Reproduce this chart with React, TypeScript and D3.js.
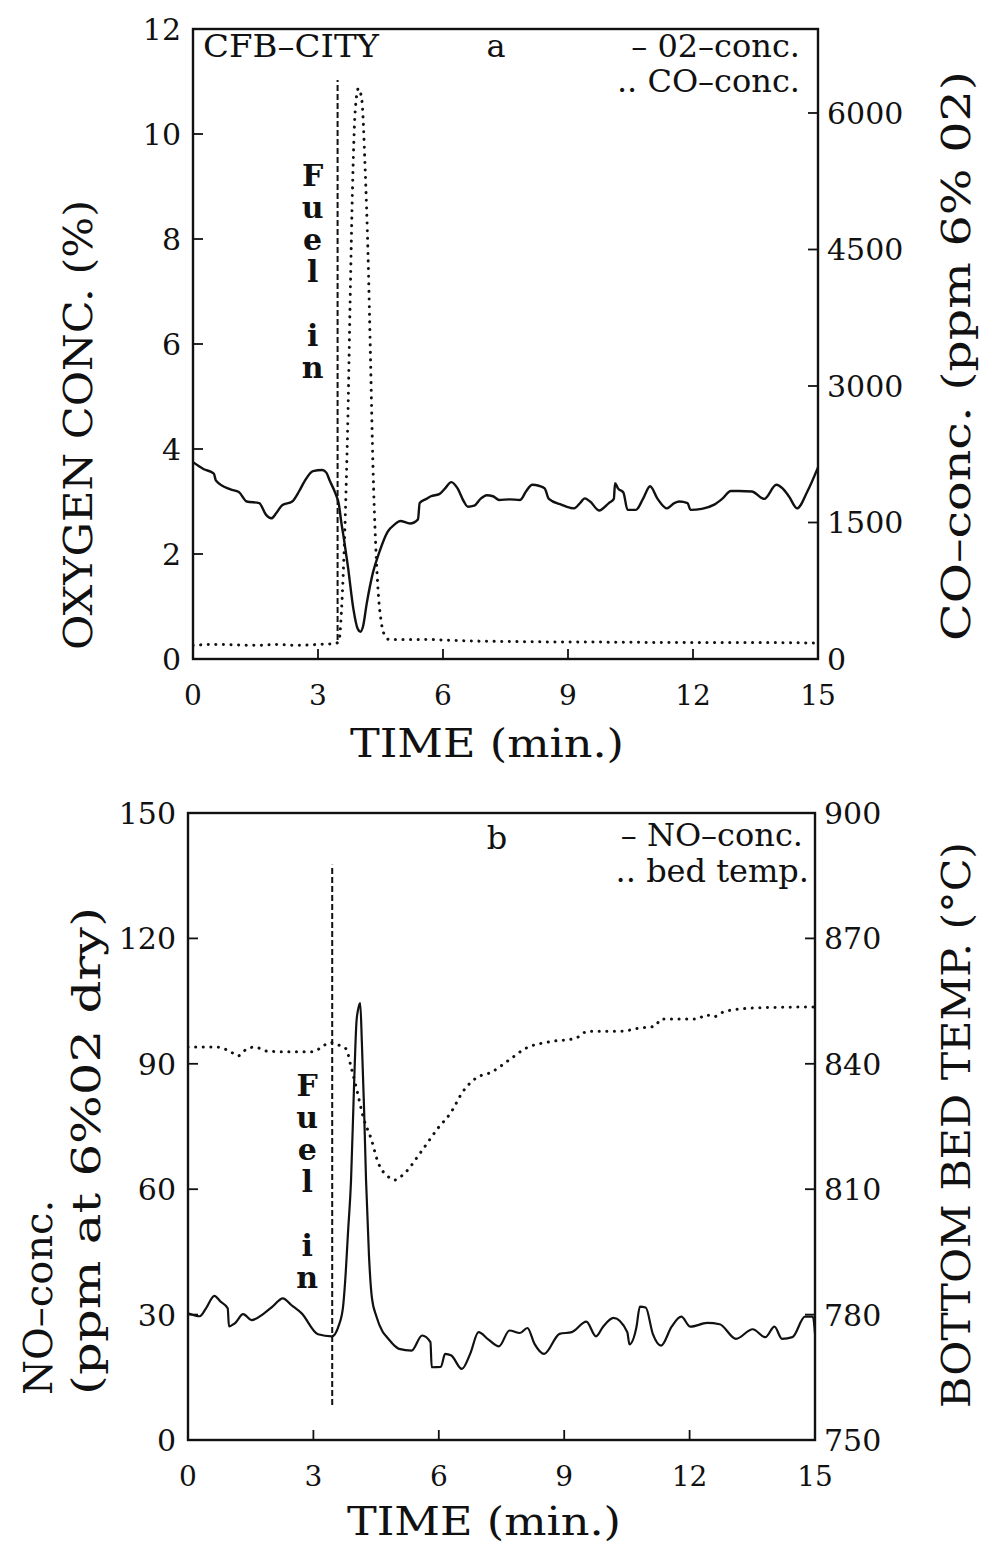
import React from 'react';
import * as d3 from 'd3';

// ---------- DATA ----------
const timeTicks = [0, 3, 6, 9, 12, 15];
const o2Ticks = [0, 2, 4, 6, 8, 10, 12];
const coTicks = [0, 1500, 3000, 4500, 6000];
const noTicks = [0, 30, 60, 90, 120, 150];
const bedTicks = [750, 780, 810, 840, 870, 900];

// panel a: O2 concentration (%)
const o2Time = [0, 0.25, 0.5, 0.55, 0.9, 1.1, 1.29, 1.59, 1.75, 1.88, 2.0, 2.14, 2.38, 2.55, 2.68, 2.88, 3.1, 3.2, 3.28, 3.42, 3.5, 3.56, 3.62, 3.72, 3.85, 3.95, 4.02, 4.08, 4.17, 4.32, 4.47, 4.67, 4.85, 4.97, 5.21, 5.4, 5.44, 5.6, 5.71, 5.91, 6.05, 6.2, 6.35, 6.5, 6.6, 6.75, 6.9, 7.05, 7.2, 7.35, 7.6, 7.85, 8.0, 8.14, 8.3, 8.44, 8.54, 8.84, 9.14, 9.3, 9.4, 9.53, 9.75, 9.98, 10.1, 10.13, 10.2, 10.33, 10.43, 10.63, 10.8, 10.97, 11.15, 11.37, 11.55, 11.67, 11.87, 11.94, 12.21, 12.51, 12.7, 12.91, 13.1, 13.41, 13.71, 14.0, 14.15, 14.3, 14.5, 14.75, 15];
const o2Values = [3.75, 3.62, 3.53, 3.4, 3.23, 3.18, 3.0, 2.97, 2.75, 2.68, 2.78, 2.93, 3.0, 3.2, 3.39, 3.58, 3.6, 3.55, 3.4, 3.15, 2.95, 2.6, 2.3, 1.75, 0.95, 0.58, 0.52, 0.62, 1.06, 1.65, 2.03, 2.42, 2.57, 2.63, 2.58, 2.66, 2.97, 3.05, 3.1, 3.14, 3.25, 3.37, 3.25, 3.0, 2.9, 2.92, 3.05, 3.12, 3.1, 3.03, 3.04, 3.03, 3.2, 3.32, 3.3, 3.25, 3.05, 2.94, 2.87, 2.98, 3.06, 3.0, 2.83, 2.97, 3.05, 3.35, 3.25, 3.17, 2.84, 2.84, 3.05, 3.29, 3.05, 2.87, 2.97, 3.0, 2.97, 2.84, 2.86, 2.94, 3.05, 3.2, 3.2, 3.19, 3.05, 3.32, 3.25, 3.1, 2.87, 3.2, 3.65];

// panel a: CO concentration (ppm 6% O2)
const coTime = [0, 0.5, 1, 1.5, 2, 2.5, 3, 3.4, 3.5, 3.56, 3.62, 3.67, 3.72, 3.77, 3.83, 3.89, 3.97, 4.05, 4.13, 4.2, 4.26, 4.32, 4.38, 4.45, 4.52, 4.6, 4.7, 5.5, 6.5, 8, 10, 12, 14, 15];
const coValues = [150, 160, 155, 150, 160, 150, 160, 170, 190, 500, 1100, 1800, 2700, 3900, 5200, 6000, 6270, 6150, 5400, 4450, 3300, 2100, 1300, 700, 400, 260, 215, 215, 200, 190, 185, 180, 180, 175];

// panel b: NO concentration (ppm at 6% O2 dry)
const noTime = [0, 0.13, 0.28, 0.43, 0.63, 0.78, 0.95, 0.98, 1.12, 1.32, 1.52, 1.82, 2.02, 2.27, 2.47, 2.72, 3.11, 3.44, 3.61, 3.71, 3.76, 3.83, 3.9, 3.97, 4.03, 4.07, 4.12, 4.16, 4.21, 4.26, 4.33, 4.4, 4.51, 4.65, 4.76, 5.05, 5.35, 5.6, 5.8, 5.83, 6.05, 6.15, 6.3, 6.55, 6.75, 6.95, 7.19, 7.44, 7.69, 7.94, 8.12, 8.29, 8.52, 8.89, 9.18, 9.53, 9.76, 9.93, 10.18, 10.51, 10.56, 10.73, 10.81, 10.95, 11.12, 11.32, 11.57, 11.8, 12.02, 12.42, 12.72, 13.11, 13.51, 13.81, 14.03, 14.21, 14.46, 14.76, 14.95, 15];
const noValues = [30.3, 29.9, 29.6, 31.5, 34.5, 33.1, 31.5, 27.2, 27.9, 30.1, 28.7, 30.3, 31.9, 33.9, 32.3, 30.3, 25.3, 24.8, 27.5, 31.9, 38, 50, 62, 84, 100, 103, 104.5, 95, 80, 62, 44, 34, 29.5, 26, 24.6, 21.8, 21.4, 25.0, 23.4, 17.4, 17.5, 20.6, 20.2, 17.0, 20.6, 25.8, 24.0, 22.4, 26.2, 25.6, 26.8, 23.0, 20.6, 25.4, 25.8, 28.3, 24.8, 27.1, 29.2, 25.8, 22.9, 27.1, 31.9, 31.7, 25.4, 22.6, 27.1, 29.5, 27.1, 28.0, 27.7, 24.2, 26.5, 24.6, 27.1, 24.2, 24.6, 29.5, 29.5, 25.5];

// panel b: bottom bed temperature (°C)
const bedTime = [0, 0.2, 0.7, 1.0, 1.2, 1.4, 1.6, 1.9, 2.19, 2.6, 2.99, 3.2, 3.39, 3.6, 3.79, 3.89, 4.04, 4.19, 4.39, 4.54, 4.79, 4.94, 5.18, 5.58, 5.98, 6.28, 6.58, 6.88, 7.28, 7.68, 8.08, 8.67, 9.27, 9.57, 10.37, 10.77, 11.17, 11.32, 12.16, 12.41, 12.56, 12.86, 13.66, 15];
const bedValues = [844, 844, 844, 843, 841.9, 843.5, 844, 843, 842.9, 842.9, 842.9, 844, 845.1, 844.5, 843.5, 839.7, 833.7, 827.3, 821.8, 816.6, 813.0, 812.2, 813.8, 819.0, 824.6, 828.2, 833.4, 836.5, 838.1, 840.9, 843.7, 845.3, 846.1, 847.8, 847.8, 848.5, 849.0, 850.7, 850.7, 851.7, 851.2, 852.6, 853.4, 853.6];

// fuel feed markers (time, span in left-axis units)
const fuelA = { t: 3.47, from: 0.36, to: 11.03 };
const fuelB = { t: 3.45, from: 8.4, to: 137.6 };
const fuelLetters = ['F', 'u', 'e', 'l', '', 'i', 'n'];

// ---------- STYLE ----------
const SERIF = "'DejaVu Serif', serif";
const INK = '#111';

const zip = (a: number[], b: number[]) => a.map((t, i) => [t, b[i]] as [number, number]);

function Frame({ x, yL, yR, leftTicks, rightTicks }: any) {
  const [x0, x1] = x.range();
  const [y1, y0] = yL.range();
  return (
    <g>
      <rect x={x0} y={y0} width={x1 - x0} height={y1 - y0} fill="none" stroke={INK} strokeWidth={2.4} />
      {timeTicks.map((t) => (
        <g key={'xt' + t}>
          <line x1={x(t)} x2={x(t)} y1={y1} y2={y1 - 10} stroke={INK} strokeWidth={1.8} />
          <text x={x(t)} y={y1 + 46} textAnchor="middle" fontFamily={SERIF} fontSize={28} fill={INK}>{t}</text>
        </g>
      ))}
      {leftTicks.map((v: number) => (
        <g key={'yl' + v}>
          <line x1={x0} x2={x0 + 10} y1={yL(v)} y2={yL(v)} stroke={INK} strokeWidth={1.8} />
          <text x={x0 - 12} y={yL(v) + 11} textAnchor="end" fontFamily={SERIF} fontSize={30} fill={INK}>{v}</text>
        </g>
      ))}
      {rightTicks.map((v: number) => (
        <g key={'yr' + v}>
          <line x1={x1 - 10} x2={x1} y1={yR(v)} y2={yR(v)} stroke={INK} strokeWidth={1.8} />
          <text x={x1 + 9} y={yR(v) + 11} textAnchor="start" fontFamily={SERIF} fontSize={30} fill={INK}>{v}</text>
        </g>
      ))}
    </g>
  );
}

function FuelMark({ x, yL, fuel, letterTop }: any) {
  const line = d3.line<[number, number]>().x((d) => x(d[0])).y((d) => yL(d[1]));
  const lx = x(fuel.t) - 25;
  return (
    <g>
      <path d={line([[fuel.t, fuel.from], [fuel.t, fuel.to]]) || ''} stroke={INK} strokeWidth={2} strokeDasharray="6 3" fill="none" />
      {fuelLetters.map((c, i) =>
        c ? (
          <text key={i} x={lx} y={letterTop + i * 32} textAnchor="middle" dominantBaseline="central" fontFamily={SERIF} fontWeight="bold" fontSize={30} fill={INK}>{c}</text>
        ) : null
      )}
    </g>
  );
}

export default function App() {
  // Panel a
  const xA = d3.scaleLinear().domain([0, 15]).range([193, 818]);
  const yA = d3.scaleLinear().domain([0, 12]).range([659, 29]);
  const yAr = d3.scaleLinear().domain([0, 6923]).range([659, 29]);
  // Panel b
  const xB = d3.scaleLinear().domain([0, 15]).range([188, 815]);
  const yB = d3.scaleLinear().domain([0, 150]).range([1440, 813]);
  const yBr = d3.scaleLinear().domain([750, 900]).range([1440, 813]);

  const mk = (x: any, y: any) =>
    d3.line<[number, number]>().x((d) => x(d[0])).y((d) => y(d[1])).curve(d3.curveMonotoneX);

  const o2Path = mk(xA, yA)(zip(o2Time, o2Values)) || '';
  const coPath = mk(xA, yAr)(zip(coTime, coValues)) || '';
  const noPath = mk(xB, yB)(zip(noTime, noValues)) || '';
  const bedPath = mk(xB, yBr)(zip(bedTime, bedValues)) || '';

  const dotted = { stroke: INK, strokeWidth: 3, strokeDasharray: '0.1 7.5', strokeLinecap: 'round' as const, fill: 'none' };

  return (
    <svg width={983} height={1544} style={{ position: 'absolute', left: 0, top: 0, background: '#fff' }} fontFamily={SERIF}>
      <rect x={0} y={0} width={983} height={1544} fill="#fff" />
      <defs>
        <clipPath id="clipA"><rect x={193} y={29} width={625} height={630} /></clipPath>
        <clipPath id="clipB"><rect x={188} y={813} width={627} height={627} /></clipPath>
      </defs>

      {/* ---------- Panel a ---------- */}
      <Frame x={xA} yL={yA} yR={yAr} leftTicks={o2Ticks} rightTicks={coTicks} />
      <g clipPath="url(#clipA)">
        <path d={coPath} {...dotted} />
        <path d={o2Path} stroke={INK} strokeWidth={2.4} fill="none" strokeLinejoin="round" />
      </g>
      <FuelMark x={xA} yL={yA} fuel={fuelA} letterTop={175} />
      <text x={203} y={57} fontSize={32} fill={INK} textLength={176} lengthAdjust="spacingAndGlyphs">CFB–CITY</text>
      <text x={496} y={57} fontSize={32} textAnchor="middle" fill={INK}>a</text>
      <text x={800} y={57} fontSize={32} textAnchor="end" fill={INK}>– 02–conc.</text>
      <text x={800} y={92} fontSize={32} textAnchor="end" fill={INK}>.. CO–conc.</text>
      <text x={487} y={757} fontSize={40} textAnchor="middle" fill={INK} textLength={274} lengthAdjust="spacingAndGlyphs">TIME  (min.)</text>
      <text transform="translate(92,425) rotate(-90)" fontSize={40} textAnchor="middle" fill={INK} textLength={450} lengthAdjust="spacingAndGlyphs">OXYGEN CONC. (%)</text>
      <text transform="translate(970,356) rotate(-90)" fontSize={40} textAnchor="middle" fill={INK} textLength={570} lengthAdjust="spacingAndGlyphs">CO–conc. (ppm 6% 02)</text>

      {/* ---------- Panel b ---------- */}
      <Frame x={xB} yL={yB} yR={yBr} leftTicks={noTicks} rightTicks={bedTicks} />
      <g clipPath="url(#clipB)">
        <path d={bedPath} {...dotted} />
        <path d={noPath} stroke={INK} strokeWidth={2.2} fill="none" strokeLinejoin="round" />
      </g>
      <FuelMark x={xB} yL={yB} fuel={fuelB} letterTop={1085} />
      <text x={497} y={849} fontSize={32} textAnchor="middle" fill={INK}>b</text>
      <text x={803} y={846} fontSize={32} textAnchor="end" fill={INK}>– NO–conc.</text>
      <text x={809} y={882} fontSize={32} textAnchor="end" fill={INK}>.. bed temp.</text>
      <text x={484} y={1535} fontSize={40} textAnchor="middle" fill={INK} textLength={274} lengthAdjust="spacingAndGlyphs">TIME  (min.)</text>
      <text transform="translate(52,1395) rotate(-90)" fontSize={40} textAnchor="start" fill={INK}>NO–conc.</text>
      <text transform="translate(100,1395) rotate(-90)" fontSize={40} textAnchor="start" fill={INK} textLength={488} lengthAdjust="spacingAndGlyphs">(ppm at 6%02 dry)</text>
      <text transform="translate(970,1125) rotate(-90)" fontSize={40} textAnchor="middle" fill={INK} textLength={566} lengthAdjust="spacingAndGlyphs">BOTTOM BED TEMP. (°C)</text>
    </svg>
  );
}
